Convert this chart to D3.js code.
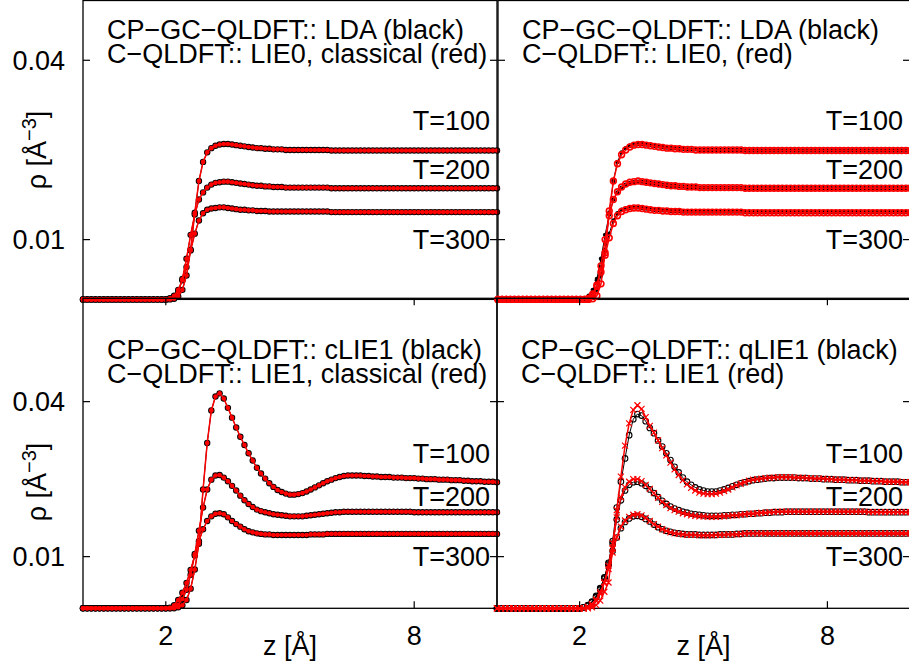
<!DOCTYPE html>
<html>
<head>
<meta charset="utf-8">
<script src="https://cdn.jsdelivr.net/npm/d3@7"></script>
<style>
  body { margin: 0; background: #fff; }
  svg { display: block; }
  text { font-family: "Liberation Sans", Arial, sans-serif; font-size: 27px; fill: #000; }
</style>
</head>
<body>
<div id="chart"></div>
<script>
// density profiles rho(z), values in units of 1e-3 A^-3, sampled every 0.1 A

const z = [
  0,0.1,0.2,0.3,0.4,0.5,0.6,0.7,0.8,0.9,
  1,1.1,1.2,1.3,1.4,1.5,1.6,1.7,1.8,1.9,
  2,2.1,2.2,2.3,2.4,2.5,2.6,2.7,2.8,2.9,
  3,3.1,3.2,3.3,3.4,3.5,3.6,3.7,3.8,3.9,
  4,4.1,4.2,4.3,4.4,4.5,4.6,4.7,4.8,4.9,
  5,5.1,5.2,5.3,5.4,5.5,5.6,5.7,5.8,5.9,
  6,6.1,6.2,6.3,6.4,6.5,6.6,6.7,6.8,6.9,
  7,7.1,7.2,7.3,7.4,7.5,7.6,7.7,7.8,7.9,
  8,8.1,8.2,8.3,8.4,8.5,8.6,8.7,8.8,8.9,
  9,9.1,9.2,9.3,9.4,9.5,9.6,9.7,9.8,9.9,
  10
];

const temps = ["T=100", "T=200", "T=300"];

// CP-GC-QLDFT LDA (black, top row)
const ldaT100 = [
  0,0,0,0,0,0,0,0,0,0, 0,0,0,0,0,0,0,0,0,0,
  0,0,0.1,0.5,1.6,4.0,8.3,14.5,19.8,23.0,
  24.6,25.3,25.7,25.9,26.0,26.0,25.9,25.8,25.7,25.6,
  25.5,25.4,25.3,25.3,25.2,25.2,25.1,25.1,25.1,25.0,
  25.0,25.0,25.0,25.0,25.0,25.0,25.0,25.0,25.0,25.0,
  24.9,24.9,24.9,24.9,24.9,24.9,24.9,24.9,24.9,24.9,
  24.9,24.9,24.9,24.9,24.9,24.9,24.9,24.9,24.9,24.9,
  24.9,24.9,24.9,24.9,24.9,24.9,24.9,24.9,24.9,24.9,
  24.9,24.9,24.9,24.9,24.9,24.9,24.9,24.9,24.9,24.9,
  24.9
];
const ldaT200 = [
  0,0,0,0,0,0,0,0,0,0, 0,0,0,0,0,0,0,0,0,0,
  0,0.1,0.3,1.2,3.4,6.8,10.8,14.2,16.7,17.9,
  18.7,19.2,19.5,19.6,19.7,19.7,19.6,19.5,19.4,19.3,
  19.2,19.1,19.0,19.0,18.9,18.9,18.8,18.8,18.8,18.7,
  18.7,18.7,18.7,18.7,18.7,18.7,18.7,18.7,18.7,18.7,
  18.6,18.6,18.6,18.6,18.6,18.6,18.6,18.6,18.6,18.6,
  18.6,18.6,18.6,18.6,18.6,18.6,18.6,18.6,18.6,18.6,
  18.6,18.6,18.6,18.6,18.6,18.6,18.6,18.6,18.6,18.6,
  18.6,18.6,18.6,18.6,18.6,18.6,18.6,18.6,18.6,18.6,
  18.6
];
const ldaT300 = [
  0,0,0,0,0,0,0,0,0,0, 0,0,0,0,0,0,0,0,0,0,
  0,0.2,0.6,1.6,3.2,5.4,8.2,11.0,13.2,14.4,
  15.0,15.2,15.3,15.4,15.4,15.3,15.2,15.1,15.0,15.0,
  14.9,14.9,14.8,14.8,14.8,14.7,14.7,14.7,14.7,14.7,
  14.7,14.7,14.7,14.7,14.7,14.7,14.7,14.7,14.7,14.7,
  14.6,14.6,14.6,14.6,14.6,14.6,14.6,14.6,14.6,14.6,
  14.6,14.6,14.6,14.6,14.6,14.6,14.6,14.6,14.6,14.6,
  14.6,14.6,14.6,14.6,14.6,14.6,14.6,14.6,14.6,14.6,
  14.6,14.6,14.6,14.6,14.6,14.6,14.6,14.6,14.6,14.6,
  14.6
];

// C-QLDFT LIE0 classical (red, top left) reads the same as LDA
const lie0ClT100 = ldaT100.slice();
const lie0ClT200 = ldaT200.slice();
const lie0ClT300 = ldaT300.slice();

// C-QLDFT LIE0 (red, top right)
const lie0T100 = [
  0,0,0,0,0,0,0,0,0,0, 0,0,0,0,0,0,0,0,0,0,
  0,0,0,0.1,0.6,2.6,7.8,14.8,19.8,22.7,
  24.2,25.0,25.5,25.8,25.9,25.9,25.8,25.7,25.6,25.5,
  25.4,25.3,25.3,25.2,25.2,25.1,25.1,25.1,25.0,25.0,
  25.0,25.0,25.0,25.0,25.0,25.0,25.0,25.0,25.0,25.0,
  24.9,24.9,24.9,24.9,24.9,24.9,24.9,24.9,24.9,24.9,
  24.9,24.9,24.9,24.9,24.9,24.9,24.9,24.9,24.9,24.9,
  24.9,24.9,24.9,24.9,24.9,24.9,24.9,24.9,24.9,24.9,
  24.9,24.9,24.9,24.9,24.9,24.9,24.9,24.9,24.9,24.9,
  24.9
];
const lie0T200 = [
  0,0,0,0,0,0,0,0,0,0, 0,0,0,0,0,0,0,0,0,0,
  0,0,0.1,0.6,2.2,5.6,10.0,14.0,16.7,18.0,
  18.8,19.3,19.6,19.7,19.8,19.7,19.6,19.5,19.4,19.3,
  19.2,19.1,19.0,19.0,18.9,18.9,18.8,18.8,18.8,18.7,
  18.7,18.7,18.7,18.7,18.7,18.7,18.7,18.7,18.7,18.7,
  18.6,18.6,18.6,18.6,18.6,18.6,18.6,18.6,18.6,18.6,
  18.6,18.6,18.6,18.6,18.6,18.6,18.6,18.6,18.6,18.6,
  18.6,18.6,18.6,18.6,18.6,18.6,18.6,18.6,18.6,18.6,
  18.6,18.6,18.6,18.6,18.6,18.6,18.6,18.6,18.6,18.6,
  18.6
];
const lie0T300 = [
  0,0,0,0,0,0,0,0,0,0, 0,0,0,0,0,0,0,0,0,0,
  0,0,0.2,0.9,2.4,4.6,7.4,10.3,12.7,14.0,
  14.7,15.0,15.2,15.3,15.3,15.2,15.1,15.0,14.9,14.9,
  14.8,14.8,14.7,14.7,14.7,14.6,14.6,14.6,14.6,14.6,
  14.6,14.6,14.6,14.6,14.6,14.6,14.6,14.6,14.6,14.6,
  14.5,14.5,14.5,14.5,14.5,14.5,14.5,14.5,14.5,14.5,
  14.5,14.5,14.5,14.5,14.5,14.5,14.5,14.5,14.5,14.5,
  14.5,14.5,14.5,14.5,14.5,14.5,14.5,14.5,14.5,14.5,
  14.5,14.5,14.5,14.5,14.5,14.5,14.5,14.5,14.5,14.5,
  14.5
];

// CP-GC-QLDFT cLIE1 (black, bottom left)
const cLie1T100 = [
  0,0,0,0,0,0,0,0,0,0, 0,0,0,0,0,0,0,0,0,0,
  0,0,0,0.2,0.6,1.6,3.8,7.5,12.5,23.0,
  32.0,38.3,41.0,41.6,40.6,38.8,36.9,35.0,33.2,31.6,
  30.0,28.6,27.2,26.1,25.1,24.2,23.5,22.9,22.5,22.2,
  22.0,22.0,22.1,22.3,22.6,23.0,23.4,23.8,24.2,24.6,
  24.9,25.2,25.4,25.6,25.7,25.7,25.7,25.7,25.6,25.6,
  25.5,25.5,25.4,25.4,25.4,25.3,25.3,25.3,25.2,25.2,
  25.2,25.1,25.1,25.0,25.0,25.0,24.9,24.9,24.9,24.8,
  24.8,24.8,24.7,24.7,24.6,24.6,24.6,24.5,24.5,24.5,
  24.4
];
const cLie1T200 = [
  0,0,0,0,0,0,0,0,0,0, 0,0,0,0,0,0,0,0,0,0,
  0,0,0.2,0.7,1.8,3.6,6.5,10.5,15.0,19.5,
  23.0,24.9,25.7,25.8,25.3,24.6,23.7,22.8,21.8,20.9,
  20.2,19.6,19.1,18.8,18.6,18.4,18.2,18.1,18.0,17.9,
  17.8,17.8,17.8,17.8,17.9,18.0,18.1,18.2,18.3,18.4,
  18.5,18.6,18.6,18.7,18.7,18.7,18.7,18.7,18.7,18.7,
  18.7,18.7,18.7,18.7,18.7,18.7,18.7,18.7,18.7,18.7,
  18.6,18.6,18.6,18.6,18.6,18.6,18.6,18.6,18.6,18.6,
  18.6,18.6,18.6,18.6,18.6,18.6,18.6,18.6,18.6,18.6,
  18.6
];
const cLie1T300 = [
  0,0,0,0,0,0,0,0,0,0, 0,0,0,0,0,0,0,0,0,0,
  0,0.1,0.6,1.6,3.0,4.9,7.4,10.2,13.0,15.3,
  16.9,17.8,18.3,18.4,18.2,17.6,16.9,16.3,15.8,15.3,
  14.9,14.7,14.5,14.4,14.3,14.3,14.2,14.2,14.2,14.2,
  14.2,14.2,14.2,14.2,14.2,14.3,14.3,14.3,14.3,14.4,
  14.4,14.4,14.4,14.4,14.4,14.4,14.4,14.4,14.4,14.4,
  14.4,14.4,14.4,14.4,14.4,14.4,14.4,14.4,14.4,14.4,
  14.4,14.4,14.4,14.4,14.4,14.4,14.4,14.4,14.4,14.4,
  14.4,14.4,14.4,14.4,14.4,14.4,14.4,14.4,14.4,14.4,
  14.4
];

// C-QLDFT LIE1 classical (red, bottom left) reads the same as cLIE1
const lie1ClT100 = cLie1T100.slice();
const lie1ClT200 = cLie1T200.slice();
const lie1ClT300 = cLie1T300.slice();

// CP-GC-QLDFT qLIE1 (black, bottom right)
const qLie1T100 = [
  0,0,0,0,0,0,0,0,0,0, 0,0,0,0,0,0,0,0,0,0,
  0,0.2,0.5,1.2,2.2,3.8,6.0,8.8,13.0,19.5,
  24.5,29.0,33.5,36.6,37.6,37.3,36.2,34.9,33.9,32.5,
  31.3,30.0,28.7,27.4,26.3,25.3,24.5,23.9,23.4,23.0,
  22.8,22.6,22.6,22.6,22.8,23.0,23.3,23.6,23.9,24.2,
  24.4,24.6,24.8,24.9,25.0,25.1,25.2,25.2,25.3,25.3,
  25.3,25.3,25.3,25.2,25.2,25.2,25.1,25.1,25.1,25.0,
  25.0,25.0,24.9,24.9,24.9,24.8,24.8,24.8,24.7,24.7,
  24.7,24.6,24.6,24.6,24.5,24.5,24.5,24.5,24.4,24.4,
  24.4
];
const qLie1T200 = [
  0,0,0,0,0,0,0,0,0,0, 0,0,0,0,0,0,0,0,0,0,
  0,0.2,0.5,1.1,2.1,3.6,5.7,8.6,12.5,17.2,
  20.9,22.8,23.9,24.4,24.5,24.2,23.7,23.0,22.3,21.5,
  20.8,20.2,19.7,19.3,19.0,18.7,18.5,18.3,18.2,18.1,
  18.0,17.9,17.9,17.9,17.9,18.0,18.0,18.1,18.1,18.2,
  18.2,18.3,18.3,18.4,18.4,18.5,18.5,18.6,18.6,18.6,
  18.7,18.7,18.7,18.7,18.7,18.7,18.7,18.7,18.7,18.7,
  18.7,18.7,18.7,18.7,18.7,18.7,18.7,18.7,18.7,18.7,
  18.6,18.6,18.6,18.6,18.6,18.6,18.6,18.6,18.6,18.6,
  18.6
];
const qLie1T300 = [
  0,0,0,0,0,0,0,0,0,0, 0,0,0,0,0,0,0,0,0,0,
  0,0.2,0.6,1.3,2.4,3.9,5.9,8.3,11.1,13.7,
  15.5,16.7,17.4,17.8,17.9,17.7,17.3,16.8,16.2,15.7,
  15.3,15.0,14.8,14.6,14.5,14.4,14.3,14.3,14.3,14.2,
  14.2,14.2,14.2,14.2,14.3,14.3,14.3,14.3,14.4,14.4,
  14.5,14.5,14.5,14.5,14.5,14.5,14.5,14.5,14.5,14.5,
  14.5,14.5,14.5,14.5,14.5,14.5,14.5,14.5,14.5,14.5,
  14.5,14.5,14.5,14.5,14.5,14.5,14.5,14.5,14.5,14.5,
  14.5,14.5,14.5,14.5,14.5,14.5,14.5,14.5,14.5,14.5,
  14.5
];

// C-QLDFT LIE1 (red, bottom right)
const lie1T100 = [
  0,0,0,0,0,0,0,0,0,0, 0,0,0,0,0,0,0,0,0,0,
  0,0,0,0.2,0.6,1.5,3.2,5.0,11.5,19.0,
  25.5,31.5,35.8,38.4,39.3,38.6,37.0,35.3,34.0,32.5,
  31.0,29.6,28.2,26.9,25.8,24.8,24.0,23.3,22.8,22.4,
  22.2,22.1,22.1,22.2,22.4,22.7,23.0,23.4,23.8,24.1,
  24.4,24.7,24.9,25.0,25.1,25.2,25.3,25.3,25.4,25.4,
  25.4,25.4,25.3,25.3,25.3,25.2,25.2,25.1,25.1,25.1,
  25.0,25.0,24.9,24.9,24.9,24.8,24.8,24.8,24.7,24.7,
  24.7,24.6,24.6,24.6,24.5,24.5,24.5,24.5,24.4,24.4,
  24.4
];
const lie1T200 = [
  0,0,0,0,0,0,0,0,0,0, 0,0,0,0,0,0,0,0,0,0,
  0,0,0.2,0.6,1.4,2.8,5.0,8.2,12.6,17.6,
  21.5,23.4,24.5,25.0,25.0,24.6,23.9,23.1,22.3,21.4,
  20.6,20.0,19.4,19.0,18.7,18.4,18.2,18.0,17.9,17.8,
  17.8,17.7,17.7,17.7,17.8,17.8,17.9,18.0,18.0,18.1,
  18.2,18.3,18.3,18.4,18.5,18.5,18.6,18.6,18.7,18.7,
  18.7,18.7,18.7,18.7,18.7,18.7,18.7,18.7,18.7,18.7,
  18.7,18.7,18.7,18.7,18.7,18.7,18.7,18.7,18.7,18.7,
  18.6,18.6,18.6,18.6,18.6,18.6,18.6,18.6,18.6,18.6,
  18.6
];
const lie1T300 = [
  0,0,0,0,0,0,0,0,0,0, 0,0,0,0,0,0,0,0,0,0,
  0,0,0.3,0.8,1.7,3.1,5.0,7.6,10.8,13.8,
  15.8,17.0,17.7,18.1,18.2,18.0,17.5,16.9,16.3,15.8,
  15.3,15.0,14.7,14.5,14.4,14.3,14.2,14.2,14.2,14.1,
  14.1,14.1,14.1,14.2,14.2,14.2,14.3,14.3,14.3,14.4,
  14.5,14.5,14.5,14.5,14.5,14.5,14.5,14.5,14.5,14.5,
  14.5,14.5,14.5,14.5,14.5,14.5,14.5,14.5,14.5,14.5,
  14.5,14.5,14.5,14.5,14.5,14.5,14.5,14.5,14.5,14.5,
  14.5,14.5,14.5,14.5,14.5,14.5,14.5,14.5,14.5,14.5,
  14.5
];

// axes
const xTickValues = [2, 8];
const yTickValues = [10, 40];
const yTickLabels = ["0.01", "0.04"];

const titleTL = ["CP\u2212GC\u2212QLDFT:: LDA (black)", "C\u2212QLDFT:: LIE0, classical (red)"];
const titleTR = ["CP\u2212GC\u2212QLDFT:: LDA (black)", "C\u2212QLDFT:: LIE0, (red)"];
const titleBL = ["CP\u2212GC\u2212QLDFT:: cLIE1 (black)", "C\u2212QLDFT:: LIE1, classical (red)"];
const titleBR = ["CP\u2212GC\u2212QLDFT:: qLIE1 (black)", "C\u2212QLDFT:: LIE1 (red)"];

// where the T= labels sit, in data units (centre of text)
const tLabelLevels = [30, 21.7, 10];

const W = 909, H = 663;
const RED = "#ff0000";

const panels = [
  { x0: 83, x1: 497, y0: 0.5, y1: 299.4, yMax: 50, title: titleTL, titleY: [39, 63],
    black: [ldaT100, ldaT200, ldaT300], red: [lie0ClT100, lie0ClT200, lie0ClT300],
    blackMark: "dot", redMark: "smalldot", xTicks: false, yLabels: true },
  { x0: 498, x1: 910, y0: 0.5, y1: 299.4, yMax: 50, title: titleTR, titleY: [39, 63],
    black: [ldaT100, ldaT200, ldaT300], red: [lie0T100, lie0T200, lie0T300],
    blackMark: "dotmid", redMark: "thickring", xTicks: false, yLabels: false },
  { x0: 83, x1: 497, y0: 298.3, y1: 608.3, yMax: 60, title: titleBL, titleY: [358.5, 382.5],
    black: [cLie1T100, cLie1T200, cLie1T300], red: [lie1ClT100, lie1ClT200, lie1ClT300],
    blackMark: "dot", redMark: "smalldot", xTicks: true, yLabels: true },
  { x0: 497, x1: 910, y0: 298.3, y1: 608.3, yMax: 60, title: titleBR, titleY: [358.5, 382.5],
    black: [qLie1T100, qLie1T200, qLie1T300], red: [lie1T100, lie1T200, lie1T300],
    blackMark: "ring", redMark: "cross", xTicks: true, yLabels: false }
];

const svg = d3.select("#chart").append("svg")
  .attr("width", W)
  .attr("height", H);

function drawMarks(g, x, y, values, kind, color) {
  if (kind === "cross") {
    const s = 3;
    g.append("path")
      .attr("d", values.map((v, i) => {
        const px = x(z[i]), py = y(v);
        return `M${px - s},${py - s}L${px + s},${py + s}M${px - s},${py + s}L${px + s},${py - s}`;
      }).join(""))
      .attr("stroke", color)
      .attr("stroke-width", 1.2)
      .attr("fill", "none");
    return;
  }
  const r = { dot: 3.2, dotmid: 2.2, smalldot: 2.3, ring: 2.8, thickring: 2.9 }[kind];
  const circles = g.selectAll(null)
    .data(values)
    .join("circle")
    .attr("cx", (d, i) => x(z[i]))
    .attr("cy", d => y(d))
    .attr("r", r);
  if (kind === "ring" || kind === "thickring") {
    circles.attr("fill", "none").attr("stroke", color)
      .attr("stroke-width", kind === "ring" ? 1.1 : 1.6);
  } else {
    circles.attr("fill", color);
  }
}

panels.forEach(p => {
  const x = d3.scaleLinear().domain([0, 10]).range([p.x0, p.x1]);
  const y = d3.scaleLinear().domain([0, p.yMax]).range([p.y1, p.y0]);
  const g = svg.append("g");

  // frame
  g.append("rect")
    .attr("x", p.x0).attr("y", p.y0)
    .attr("width", p.x1 - p.x0).attr("height", p.y1 - p.y0)
    .attr("fill", "none").attr("stroke", "#000").attr("stroke-width", 1.3);

  // inward ticks, mirrored on both sides
  const tl = 7;
  yTickValues.forEach(v => {
    g.append("line").attr("x1", p.x0).attr("x2", p.x0 + tl)
      .attr("y1", y(v)).attr("y2", y(v)).attr("stroke", "#000").attr("stroke-width", 1.2);
    g.append("line").attr("x1", p.x1 - tl).attr("x2", p.x1)
      .attr("y1", y(v)).attr("y2", y(v)).attr("stroke", "#000").attr("stroke-width", 1.2);
  });
  if (p.xTicks) {
    xTickValues.forEach(v => {
      g.append("line").attr("x1", x(v)).attr("x2", x(v))
        .attr("y1", p.y1).attr("y2", p.y1 - tl).attr("stroke", "#000").attr("stroke-width", 1.2);
      g.append("line").attr("x1", x(v)).attr("x2", x(v))
        .attr("y1", p.y0).attr("y2", p.y0 + tl).attr("stroke", "#000").attr("stroke-width", 1.2);
      g.append("text")
        .attr("x", x(v)).attr("y", 645)
        .attr("text-anchor", "middle")
        .text(v);
    });
    g.append("text")
      .attr("x", (p.x0 + p.x1) / 2).attr("y", 655)
      .attr("text-anchor", "middle")
      .text("z [\u00c5]");
  }
  if (p.yLabels) {
    yTickValues.forEach((v, i) => {
      g.append("text")
        .attr("x", 65).attr("y", y(v))
        .attr("dy", "0.35em")
        .attr("text-anchor", "end")
        .text(yTickLabels[i]);
    });
  }

  // curves: black underneath, red on top
  const line = d3.line().x((d, i) => x(z[i])).y(d => y(d));
  const curves = g.append("g");
  p.black.forEach(vals => {
    curves.append("path").attr("d", line(vals))
      .attr("fill", "none").attr("stroke", "#000").attr("stroke-width", 1);
    drawMarks(curves, x, y, vals, p.blackMark, "#000");
  });
  p.red.forEach(vals => {
    curves.append("path").attr("d", line(vals))
      .attr("fill", "none").attr("stroke", RED).attr("stroke-width", 1.5);
    drawMarks(curves, x, y, vals, p.redMark, RED);
  });

  // labels
  p.title.forEach((t, i) => {
    g.append("text").attr("x", p.x0 + 24).attr("y", p.titleY[i]).text(t);
  });
  temps.forEach((t, i) => {
    g.append("text")
      .attr("x", p.x1 - 7).attr("y", y(tLabelLevels[i]))
      .attr("dy", "0.35em")
      .attr("text-anchor", "end")
      .text(t);
  });
});

// y axis titles, one per row
[150, 482].forEach(cy => {
  const t = svg.append("text")
    .attr("transform", `translate(46,${cy}) rotate(-90)`)
    .attr("text-anchor", "middle");
  t.append("tspan").text("\u03c1 [\u00c5");
  t.append("tspan").attr("dy", -10).style("font-size", "20px").text("\u22123");
  t.append("tspan").attr("dy", 10).text("]");
});
</script>
</body>
</html>
